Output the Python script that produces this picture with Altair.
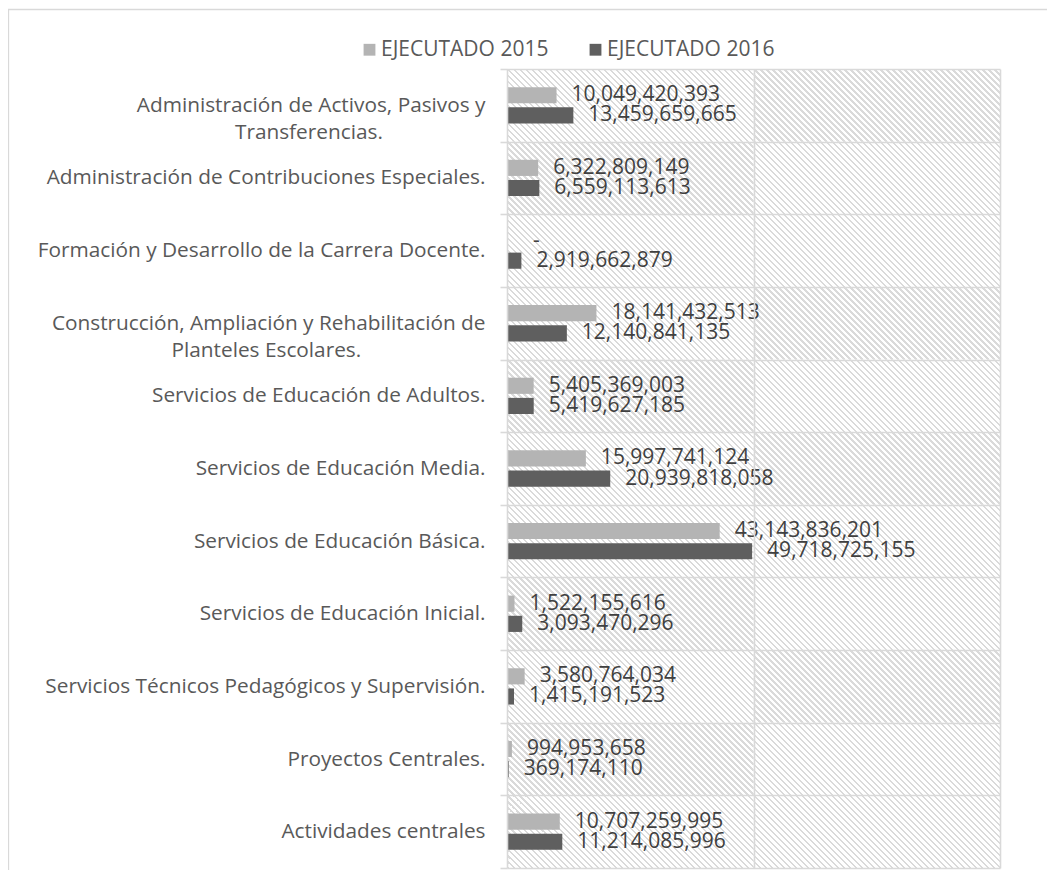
import altair as alt
import pandas as pd

categories = [
    "Administración de Activos, Pasivos y\nTransferencias.",
    "Administración de Contribuciones Especiales.",
    "Formación y Desarrollo de la Carrera Docente.",
    "Construcción, Ampliación y Rehabilitación de\nPlanteles Escolares.",
    "Servicios de Educación de Adultos.",
    "Servicios de Educación Media.",
    "Servicios de Educación Básica.",
    "Servicios de Educación Inicial.",
    "Servicios Técnicos Pedagógicos y Supervisión.",
    "Proyectos Centrales.",
    "Actividades centrales",
]
series = ["EJECUTADO 2015", "EJECUTADO 2016"]
ejecutado_2015 = [10049420393, 6322809149, 0, 18141432513, 5405369003,
                  15997741124, 43143836201, 1522155616, 3580764034,
                  994953658, 10707259995]
ejecutado_2016 = [13459659665, 6559113613, 2919662879, 12140841135, 5419627185,
                  20939818058, 49718725155, 3093470296, 1415191523,
                  369174110, 11214085996]
x_domain = [0, 100000000000]
x_grid = [0, 50000000000, 100000000000]
colors = ["#b4b4b4", "#5f5f5f"]

rows = []
for c, a, b in zip(categories, ejecutado_2015, ejecutado_2016):
    rows.append({"categoria": c, "serie": series[0], "valor": a})
    rows.append({"categoria": c, "serie": series[1], "valor": b})
df = pd.DataFrame(rows)

# background cells (one per category band and grid interval)
cells = pd.DataFrame([{"categoria": c, "a": x_grid[i], "b": x_grid[i + 1]}
                      for c in categories for i in range(len(x_grid) - 1)])

W, H = 493, 799
cw, ch = W / (len(x_grid) - 1), H / len(categories)

# diagonal hatch as a striped linear gradient (objectBoundingBox units)
period = 6.0
L = cw + ch
s = cw * cw + ch * ch
x2g = cw * L / s
y2g = 1 - ch * L / s
stops = []
line_c, bg_c = "#dadada", "#ffffff"
k = 0
while k * period / L < 1:
    o0 = k * period / L
    o1 = min((k + 0.4) * period / L, 1.0)
    o2 = min((k + 1) * period / L, 1.0)
    stops += [alt.GradientStop(offset=o0, color=line_c),
              alt.GradientStop(offset=o1, color=line_c),
              alt.GradientStop(offset=o1, color=bg_c),
              alt.GradientStop(offset=o2, color=bg_c)]
    k += 1
hatch_grad = alt.LinearGradient(gradient="linear", stops=stops,
                                x1=0, y1=1, x2=x2g, y2=y2g)

xscale = alt.Scale(domain=x_domain, nice=False, zero=True)

NB = "\u00a0"
ZW = "\u200b"
L1 = "split(datum.label, '\\n')[0]"
L2 = "split(datum.label, '\\n')[1]"
label_expr = (
    "length(split(datum.label, '\\n')) > 1 ? "
    f"[{L1}, pad({L2}, length({L2}) + round((length({L1}) - length({L2})) * 1.25 - 7.2), '{NB}') + '{ZW}']"
    " : datum.label"
)

yenc = alt.Y(
    "categoria:N", sort=categories,
    scale=alt.Scale(paddingInner=0, paddingOuter=0),
    axis=alt.Axis(
        title=None, domain=False, grid=True, tickBand="extent",
        gridColor="#d9d9d9", gridWidth=1.6, tickColor="#d9d9d9", tickWidth=1.6,
        tickSize=7, labelFont="Open Sans", labelFontSize=20.8, labelColor="#595959",
        labelLimit=600, labelLineHeight=27, labelPadding=15,
        labelExpr=label_expr, zindex=1,
    ),
)

hatch = alt.Chart(cells).mark_rect(fill=hatch_grad, strokeWidth=0).encode(
    x=alt.X("a:Q", scale=xscale,
            axis=alt.Axis(values=x_grid, labels=False, ticks=False, domain=False,
                          grid=True, gridColor="#d9d9d9", gridWidth=1.6,
                          title=None, zindex=1)),
    x2="b:Q",
    y=yenc,
)

yoff = alt.YOffset("serie:N", sort=series,
                   scale=alt.Scale(paddingInner=0.2, paddingOuter=0.9))

base = alt.Chart(df)

bars = base.mark_bar().encode(
    y=alt.Y("categoria:N", sort=categories),
    yOffset=yoff,
    x=alt.X("valor:Q", scale=xscale),
    color=alt.Color("serie:N", sort=series,
                    scale=alt.Scale(domain=series, range=colors),
                    legend=alt.Legend(title=None, orient="none", direction="horizontal",
                                      legendX=-148, legendY=-30, symbolType="square",
                                      symbolSize=140, symbolStrokeWidth=0,
                                      labelFont="Open Sans", labelFontSize=21,
                                      labelColor="#595959", labelOffset=1,
                                      labelLimit=400, columnPadding=36)),
)

labels = base.transform_calculate(
    txt="datum.valor == 0 ? '" + ZW + NB + NB + "-' : format(datum.valor, ',')"
).mark_text(align="left", baseline="middle", dx=15, font="Open Sans",
            fontSize=21, color="#404040").encode(
    y=alt.Y("categoria:N", sort=categories),
    yOffset=alt.YOffset("serie:N", sort=series),
    x=alt.X("valor:Q", scale=xscale),
    text="txt:N",
)

frame = alt.Chart(pd.DataFrame({"a": [0]})).mark_rect(
    filled=False, stroke="#d9d9d9", strokeWidth=1.3
).encode(
    x=alt.value(-498.5), x2=alt.value(800),
    y=alt.value(-59.5), y2=alt.value(1000),
)

chart = alt.layer(hatch, bars, labels, frame).properties(
    width=W, height=H,
    autosize=alt.AutoSizeParams(type="none"),
    padding={"left": 499, "top": 61, "right": 47, "bottom": 2},
).configure_view(strokeWidth=0)

chart.save("out.html", embed_options={"renderer": "svg", "actions": False})
